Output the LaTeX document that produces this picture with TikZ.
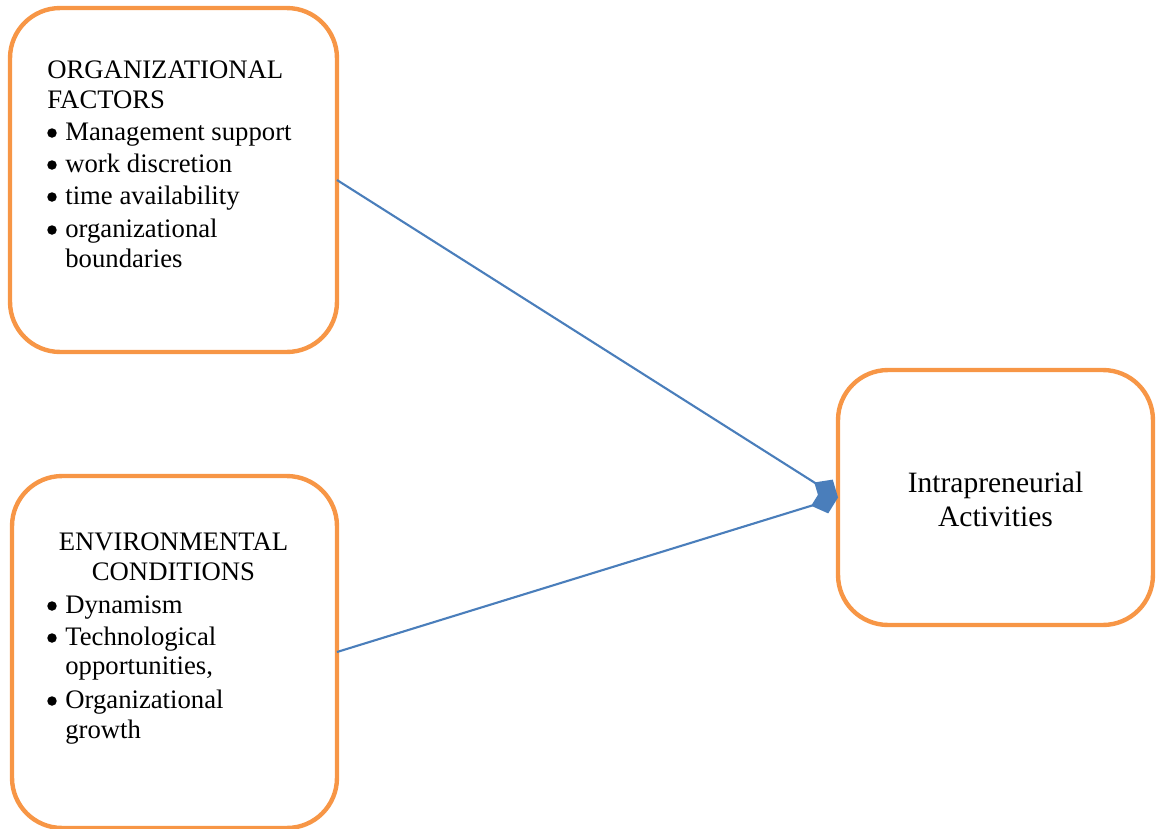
\documentclass[tikz,border=0pt]{standalone}
\usepackage{fontspec}
\setmainfont{Liberation Serif}
\usetikzlibrary{arrows.meta}
\definecolor{boxorange}{HTML}{F79646}
\definecolor{linkblue}{HTML}{4A7EBB}
\tikzset{>={Diamond[length=16pt,width=14pt]}}
\tikzset{
	% boxes
	factorbox/.style={draw=boxorange,line width=2.5pt,rounded corners=1cm,inner sep=0pt,outer sep=0pt},
	% text lines
	txt/.style={inner sep=0pt,font=\fontsize{15.2}{18}\selectfont},
	bigtxt/.style={inner sep=0pt,font=\fontsize{16.8}{20}\selectfont},
	bullet/.style={circle,fill=black,inner sep=0pt,minimum size=0.19cm},
	% connectors
	link/.style={draw=linkblue,line width=1.2pt,->},
}

\begin{document}
\begin{tikzpicture}[x=0.02cm,y=-0.02cm]
\useasboundingbox (0,0) rectangle (1161,829);
% the three boxes
\node[factorbox,minimum width=6.54cm,minimum height=6.88cm] (org) at (173.5,180) {};
\node[factorbox,minimum width=6.5cm,minimum height=7.04cm] (env) at (174.5,652) {};
\node[factorbox,minimum width=6.3cm,minimum height=5.1cm] (act) at (995.5,497.5) {};
% organizational factors
\node[txt,anchor=base west] (orgh1) at (47,78) {ORGANIZATIONAL};
\node[txt,anchor=base west] (orgh2) at (47,108) {FACTORS};
\foreach \y/\t [count=\i] in {140/Management support,172/work discretion,204/time availability,237/organizational}
  {\node[bullet] (orgb\i) at (52,\y-7) {};
   \node[txt,anchor=base west] (orgi\i) at (65,\y) {\t};}
\node[txt,anchor=base west] (orgi5) at (65,267) {boundaries};
% environmental conditions
\node[txt,anchor=base] (envh1) at (173.5,550) {ENVIRONMENTAL};
\node[txt,anchor=base] (envh2) at (173.5,580) {CONDITIONS};
\foreach \y/\t [count=\i] in {613/Dynamism,645/Technological,708/Organizational}
  {\node[bullet] (envb\i) at (52,\y-7) {};
   \node[txt,anchor=base west] (envi\i) at (65,\y) {\t};}
\node[txt,anchor=base west] (envc1) at (65,674) {opportunities,};
\node[txt,anchor=base west] (envc2) at (65,738) {growth};
% outcome
\node[bigtxt,anchor=base] (acth1) at (995.5,492) {Intrapreneurial};
\node[bigtxt,anchor=base] (acth2) at (995.5,526) {Activities};
% the two links
\draw[link] (org.east) -- (act.west);
\draw[link] (env.east) -- (act.west);
\end{tikzpicture}
\end{document}
